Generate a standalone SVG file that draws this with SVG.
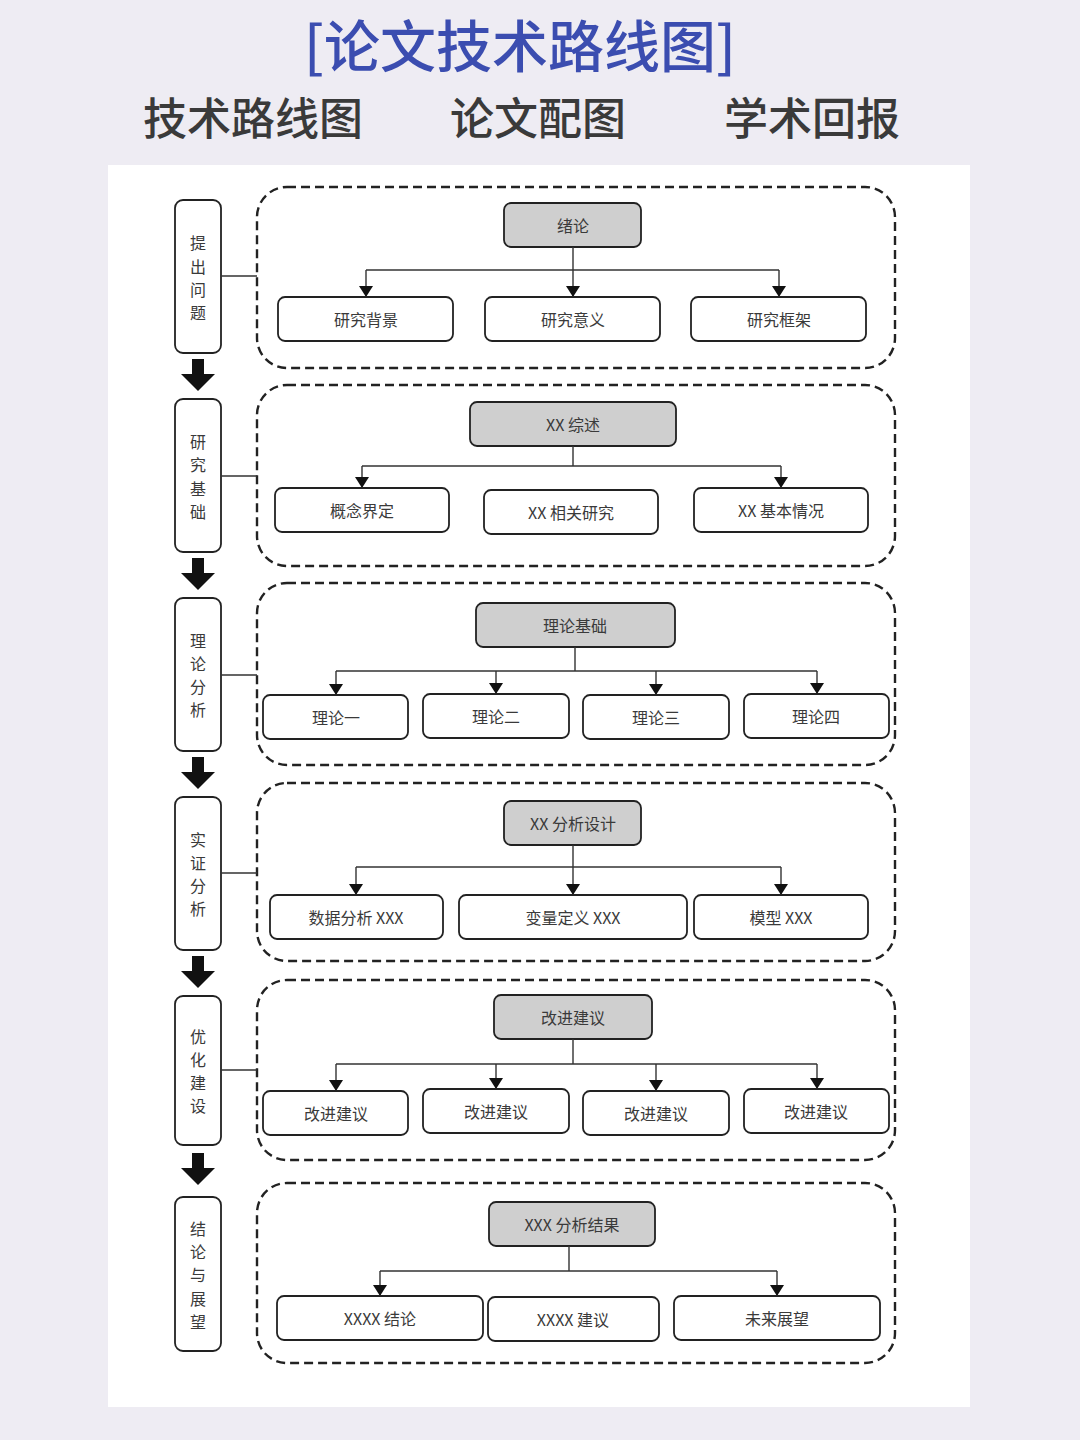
<svg xmlns="http://www.w3.org/2000/svg" width="1080" height="1440" viewBox="0 0 1080 1440">
<defs>
<marker id="ah" markerUnits="userSpaceOnUse" markerWidth="12" markerHeight="14" refX="11" refY="7" orient="auto" viewBox="0 0 12 14">
<path d="M0,0 L11,7 L0,14 Z" fill="#111"/>
</marker>
<style>
.t{font-family:"Noto Sans CJK SC","Liberation Sans",sans-serif;fill:#3a3a3a;text-anchor:middle;dominant-baseline:central}
.lbl{font-size:16px}
.stg{font-size:16px}
.box{fill:#fff;stroke:#222;stroke-width:1.8}
.head{fill:#cfcfcf;stroke:#222;stroke-width:1.8}
.stage{fill:#fff;stroke:#222;stroke-width:1.8}
.dash{fill:none;stroke:#222;stroke-width:2.4;stroke-dasharray:9 5}
.ln{fill:none;stroke:#333;stroke-width:1.4}
.arr{fill:none;stroke:#333;stroke-width:1.4;marker-end:url(#ah)}
.big{fill:#111}
.ttl{font-family:"Noto Sans CJK SC",sans-serif;text-anchor:middle;dominant-baseline:central;font-weight:500}
</style>
</defs>
<rect width="1080" height="1440" fill="#EEECF3"/>
<rect x="108" y="165" width="862" height="1242" fill="#fff"/>

<g id="title">
<text class="ttl" x="520" y="42" font-size="56" fill="#3B4DB0">[论文技术路线图]</text>
<text class="ttl" x="253" y="116" font-size="44" fill="#3a3a3a">技术路线图</text>
<text class="ttl" x="538" y="116" font-size="44" fill="#3a3a3a">论文配图</text>
<text class="ttl" x="812" y="116" font-size="44" fill="#3a3a3a">学术回报</text>
</g>

<!-- stage boxes -->
<g id="stage1"><rect class="stage" x="175" y="200" width="46" height="153" rx="8"/>
<text class="t stg" x="198" y="242">提</text><text class="t stg" x="198" y="266">出</text><text class="t stg" x="198" y="289">问</text><text class="t stg" x="198" y="312">题</text></g>
<g id="stage2"><rect class="stage" x="175" y="399" width="46" height="153" rx="8"/>
<text class="t stg" x="198" y="441">研</text><text class="t stg" x="198" y="464">究</text><text class="t stg" x="198" y="488">基</text><text class="t stg" x="198" y="511">础</text></g>
<g id="stage3"><rect class="stage" x="175" y="598" width="46" height="153" rx="8"/>
<text class="t stg" x="198" y="640">理</text><text class="t stg" x="198" y="663">论</text><text class="t stg" x="198" y="686">分</text><text class="t stg" x="198" y="709">析</text></g>
<g id="stage4"><rect class="stage" x="175" y="797" width="46" height="153" rx="8"/>
<text class="t stg" x="198" y="839">实</text><text class="t stg" x="198" y="862">证</text><text class="t stg" x="198" y="885">分</text><text class="t stg" x="198" y="908">析</text></g>
<g id="stage5"><rect class="stage" x="175" y="996" width="46" height="149" rx="8"/>
<text class="t stg" x="198" y="1036">优</text><text class="t stg" x="198" y="1059">化</text><text class="t stg" x="198" y="1082">建</text><text class="t stg" x="198" y="1105">设</text></g>
<g id="stage6"><rect class="stage" x="175" y="1197" width="46" height="154" rx="8"/>
<text class="t stg" x="198" y="1228">结</text><text class="t stg" x="198" y="1251">论</text><text class="t stg" x="198" y="1274">与</text><text class="t stg" x="198" y="1298">展</text><text class="t stg" x="198" y="1321">望</text></g>

<!-- dashed groups -->
<g id="group1"><rect class="dash" x="257" y="187" width="638" height="181" rx="30"/></g>
<g id="group2"><rect class="dash" x="257" y="385" width="638" height="181" rx="30"/></g>
<g id="group3"><rect class="dash" x="257" y="583" width="638" height="182" rx="30"/></g>
<g id="group4"><rect class="dash" x="257" y="783" width="638" height="178" rx="30"/></g>
<g id="group5"><rect class="dash" x="257" y="980" width="638" height="180" rx="30"/></g>
<g id="group6"><rect class="dash" x="257" y="1183" width="638" height="180" rx="30"/></g>

<!-- group1 nodes -->
<g id="n-xulun"><rect class="head" x="504" y="203" width="137" height="44" rx="7"/><text class="t lbl" x="573" y="225">绪论</text></g>
<g id="n-bg"><rect class="box" x="278" y="297" width="175" height="44" rx="7"/><text class="t lbl" x="366" y="319">研究背景</text></g>
<g id="n-yi"><rect class="box" x="485" y="297" width="175" height="44" rx="7"/><text class="t lbl" x="573" y="319">研究意义</text></g>
<g id="n-kj"><rect class="box" x="691" y="297" width="175" height="44" rx="7"/><text class="t lbl" x="779" y="319">研究框架</text></g>

<!-- group2 nodes -->
<g id="n-zs"><rect class="head" x="470" y="402" width="206" height="44" rx="7"/><text class="t lbl" x="573" y="424">XX 综述</text></g>
<g id="n-gn"><rect class="box" x="275" y="488" width="174" height="44" rx="7"/><text class="t lbl" x="362" y="510">概念界定</text></g>
<g id="n-xg"><rect class="box" x="484" y="490" width="174" height="44" rx="7"/><text class="t lbl" x="571" y="512">XX 相关研究</text></g>
<g id="n-jb"><rect class="box" x="694" y="488" width="174" height="44" rx="7"/><text class="t lbl" x="781" y="510">XX 基本情况</text></g>

<!-- group3 nodes -->
<g id="n-llj"><rect class="head" x="476" y="603" width="199" height="44" rx="7"/><text class="t lbl" x="575" y="625">理论基础</text></g>
<g id="n-l1"><rect class="box" x="263" y="695" width="145" height="44" rx="7"/><text class="t lbl" x="336" y="717">理论一</text></g>
<g id="n-l2"><rect class="box" x="423" y="694" width="146" height="44" rx="7"/><text class="t lbl" x="496" y="716">理论二</text></g>
<g id="n-l3"><rect class="box" x="583" y="695" width="146" height="44" rx="7"/><text class="t lbl" x="656" y="717">理论三</text></g>
<g id="n-l4"><rect class="box" x="744" y="694" width="145" height="44" rx="7"/><text class="t lbl" x="816" y="716">理论四</text></g>

<!-- group4 nodes -->
<g id="n-fx"><rect class="head" x="504" y="801" width="137" height="44" rx="7"/><text class="t lbl" x="573" y="823">XX 分析设计</text></g>
<g id="n-sj"><rect class="box" x="270" y="895" width="173" height="44" rx="7"/><text class="t lbl" x="356" y="917">数据分析 XXX</text></g>
<g id="n-bl"><rect class="box" x="459" y="895" width="228" height="44" rx="7"/><text class="t lbl" x="573" y="917">变量定义 XXX</text></g>
<g id="n-mx"><rect class="box" x="694" y="895" width="174" height="44" rx="7"/><text class="t lbl" x="781" y="917">模型 XXX</text></g>

<!-- group5 nodes -->
<g id="n-gj"><rect class="head" x="494" y="995" width="158" height="44" rx="7"/><text class="t lbl" x="573" y="1017">改进建议</text></g>
<g id="n-g1"><rect class="box" x="263" y="1091" width="145" height="44" rx="7"/><text class="t lbl" x="336" y="1113">改进建议</text></g>
<g id="n-g2"><rect class="box" x="423" y="1089" width="146" height="44" rx="7"/><text class="t lbl" x="496" y="1111">改进建议</text></g>
<g id="n-g3"><rect class="box" x="583" y="1091" width="146" height="44" rx="7"/><text class="t lbl" x="656" y="1113">改进建议</text></g>
<g id="n-g4"><rect class="box" x="744" y="1089" width="145" height="44" rx="7"/><text class="t lbl" x="816" y="1111">改进建议</text></g>

<!-- group6 nodes -->
<g id="n-jg"><rect class="head" x="489" y="1202" width="166" height="44" rx="7"/><text class="t lbl" x="572" y="1224">XXX 分析结果</text></g>
<g id="n-jl"><rect class="box" x="277" y="1296" width="206" height="44" rx="7"/><text class="t lbl" x="380" y="1318">XXXX 结论</text></g>
<g id="n-jy"><rect class="box" x="488" y="1297" width="171" height="44" rx="7"/><text class="t lbl" x="573" y="1319">XXXX 建议</text></g>
<g id="n-zw"><rect class="box" x="674" y="1296" width="206" height="44" rx="7"/><text class="t lbl" x="777" y="1318">未来展望</text></g>

<g id="connectors">
<!-- stage to group -->
<path class="ln" stroke-width="1.8" d="M221,276H257M221,476H257M221,675H257M221,873H257M221,1070H257"/>
<!-- big down arrows -->
<path class="big" d="M192,359H204V374H215L198,391L181,374H192Z"/>
<path class="big" d="M192,558H204V573H215L198,590L181,573H192Z"/>
<path class="big" d="M192,757H204V772H215L198,789L181,772H192Z"/>
<path class="big" d="M192,956H204V971H215L198,988L181,971H192Z"/>
<path class="big" d="M192,1153H204V1168H215L198,1185L181,1168H192Z"/>
<!-- group1 -->
<path class="ln" d="M366,270H779"/>
<path class="arr" d="M573,247V297"/>
<path class="arr" d="M366,270V297"/>
<path class="arr" d="M779,270V297"/>
<!-- group2 -->
<path class="ln" d="M573,446V466M362,466H781"/>
<path class="arr" d="M362,466V488"/>
<path class="arr" d="M781,466V488"/>
<!-- group3 -->
<path class="ln" d="M575,647V671M336,671H817"/>
<path class="arr" d="M336,671V695"/>
<path class="arr" d="M496,671V694"/>
<path class="arr" d="M656,671V695"/>
<path class="arr" d="M817,671V694"/>
<!-- group4 -->
<path class="ln" d="M356,867H781"/>
<path class="arr" d="M573,845V895"/>
<path class="arr" d="M356,867V895"/>
<path class="arr" d="M781,867V895"/>
<!-- group5 -->
<path class="ln" d="M573,1039V1064M336,1064H817"/>
<path class="arr" d="M336,1064V1091"/>
<path class="arr" d="M496,1064V1089"/>
<path class="arr" d="M656,1064V1091"/>
<path class="arr" d="M817,1064V1089"/>
<!-- group6 -->
<path class="ln" d="M569,1246V1271M380,1271H777"/>
<path class="arr" d="M380,1271V1296"/>
<path class="arr" d="M777,1271V1296"/>
</g>
</svg>
